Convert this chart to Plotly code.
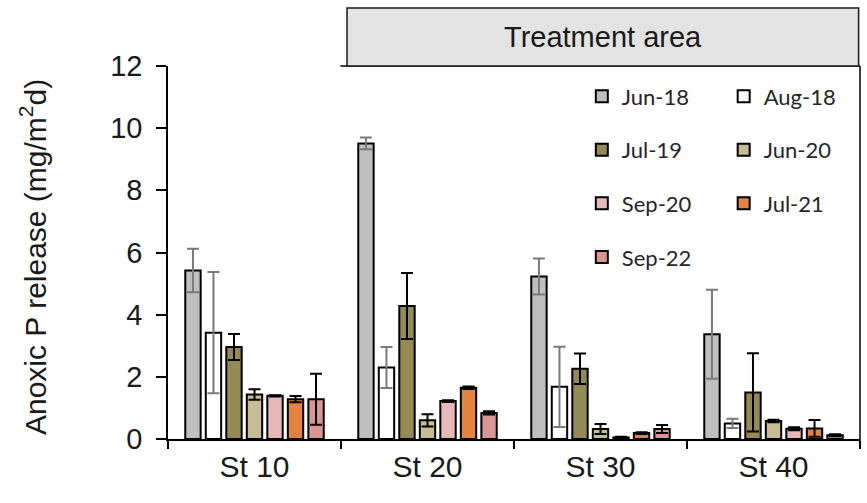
import plotly.graph_objects as go

# Sampling stations along the x axis
stations = ["St 10", "St 20", "St 30", "St 40"]

# Anoxic P release (mg/m2/d), mean and standard deviation per campaign
jun18 = [5.42, 9.51, 5.23, 3.37]
jun18_sd = [0.70, 0.19, 0.58, 1.43]
aug18 = [3.42, 2.30, 1.68, 0.50]
aug18_sd = [1.95, 0.66, 1.29, 0.15]
jul19 = [2.96, 4.28, 2.26, 1.50]
jul19_sd = [0.42, 1.06, 0.49, 1.26]
jun20 = [1.43, 0.60, 0.32, 0.58]
jun20_sd = [0.17, 0.20, 0.16, 0.04]
sep20 = [1.39, 1.22, 0.05, 0.33]
sep20_sd = [0.02, 0.03, 0.02, 0.05]
jul21 = [1.28, 1.65, 0.19, 0.34]
jul21_sd = [0.10, 0.04, 0.03, 0.27]
sep22 = [1.28, 0.84, 0.32, 0.12]
sep22_sd = [0.82, 0.05, 0.13, 0.03]

y_ticks = [0, 2, 4, 6, 8, 10, 12]

series = [
    ("Jun-18", jun18, jun18_sd, "#bfbfbf", "#7a7a7a", "legend"),
    ("Aug-18", aug18, aug18_sd, "#ffffff", "#7a7a7a", "legend2"),
    ("Jul-19", jul19, jul19_sd, "#948a54", "#000000", "legend"),
    ("Jun-20", jun20, jun20_sd, "#c4bd97", "#000000", "legend2"),
    ("Sep-20", sep20, sep20_sd, "#e6b9b8", "#000000", "legend"),
    ("Jul-21", jul21, jul21_sd, "#e0843f", "#000000", "legend2"),
    ("Sep-22", sep22, sep22_sd, "#d99694", "#000000", "legend"),
]

AXIS_FONT = "Liberation Sans, Arial, sans-serif"
LEGEND_FONT = "Lato, Carlito, Calibri, sans-serif"

fig = go.Figure()
for name, vals, sd, fill, ecolor, leg in series:
    fig.add_trace(go.Bar(
        x=stations, y=vals, name=name,
        marker=dict(color=fill, line=dict(color="#000000", width=2)),
        error_y=dict(type="data", array=sd, visible=True,
                     color=ecolor, thickness=2, width=6),
        legend=leg, legendgroup=name,
    ))

legend_common = dict(
    font=dict(family=LEGEND_FONT, size=22, color="#262626"),
    bgcolor="rgba(0,0,0,0)", tracegroupgap=22,
    xanchor="left", yanchor="top", orientation="v",
)

fig.update_layout(
    width=867, height=503,
    margin=dict(l=168, r=7, t=66, b=64),
    paper_bgcolor="white", plot_bgcolor="white",
    barmode="group", bargap=0.17, bargroupgap=0.25,
    legend=dict(x=0.598, y=0.975, **legend_common),
    legend2=dict(x=0.803, y=0.975, **legend_common),
    xaxis=dict(
        type="category", tickson="boundaries", ticks="outside", ticklen=8,
        tickwidth=1.5, tickcolor="#000000",
        showline=True, linecolor="#000000", linewidth=1.5,
        showgrid=False, zeroline=False,
        tickfont=dict(family=AXIS_FONT, size=30, color="#1a1a1a"),
    ),
    yaxis=dict(
        range=[0, 12], tickvals=y_ticks, ticks="outside", ticklen=10,
        tickwidth=1.5, tickcolor="#000000", ticklabelstandoff=8,
        showline=True, linecolor="#000000", linewidth=1.5,
        showgrid=False, zeroline=False,
        tickfont=dict(family=AXIS_FONT, size=29, color="#1a1a1a"),
    ),
)

# Axis title
fig.add_annotation(
    text="Anoxic P release (mg/m<sup>2</sup>d)",
    xref="paper", yref="paper", x=-0.195, y=0.488,
    xanchor="center", yanchor="middle", textangle=-90, showarrow=False,
    font=dict(family=AXIS_FONT, size=30, color="#1a1a1a"),
)

# Frame of the treatment area (St 20 to St 40) with its header box
fig.add_shape(type="line", xref="paper", yref="paper",
              x0=0.249, x1=1.0, y0=1.0, y1=1.0,
              line=dict(color="#000000", width=1.5))
fig.add_shape(type="line", xref="paper", yref="paper",
              x0=1.0, x1=1.0, y0=-0.022, y1=1.0,
              line=dict(color="#000000", width=1.5))
fig.add_shape(type="rect", xref="paper", yref="paper",
              x0=0.2587, x1=0.998, y0=1.0, y1=1.1555,
              fillcolor="#e3e3e3", line=dict(color="#1a1a1a", width=1.5))
fig.add_annotation(
    text="Treatment area", xref="paper", yref="paper",
    x=0.628, y=1.078, xanchor="center", yanchor="middle", showarrow=False,
    font=dict(family=AXIS_FONT, size=29, color="#1a1a1a"),
)

fig.write_html("out.html")
